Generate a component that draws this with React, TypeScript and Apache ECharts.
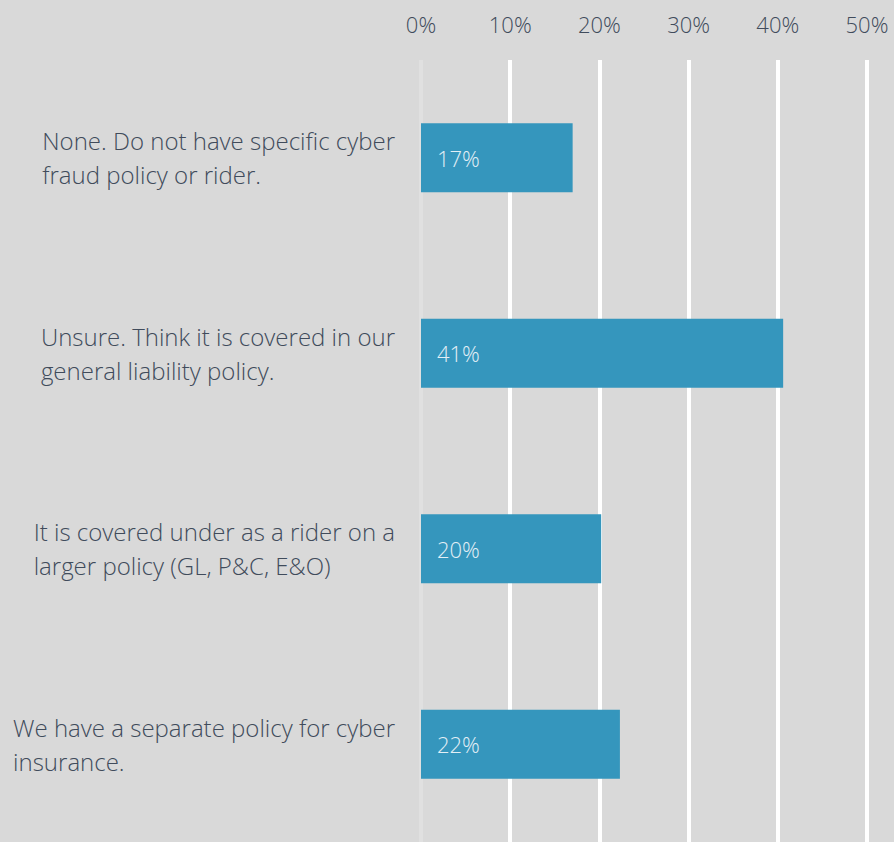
import React, { useEffect, useRef } from "react";
import * as echarts from "echarts";

const categories: string[] = [
  "None. Do not have specific cyber\nfraud policy or rider.",
  "Unsure. Think it is covered in our\ngeneral liability policy.",
  "It is covered under as a rider on a\nlarger policy (GL, P&C, E&O)",
  "We have a separate policy for cyber\ninsurance.",
];
const values: number[] = [17, 40.6, 20.2, 22.3];
const valueLabels: string[] = ["17%", "41%", "20%", "22%"];
const tickMin = 0;
const tickMax = 50;
const tickStep = 10;

const FONT = "'Open Sans', 'Noto Sans', sans-serif";
const TEXT = "#404b5b";

export default function App() {
  const ref = useRef<HTMLDivElement>(null);
  useEffect(() => {
    if (!ref.current) return;
    const chart = echarts.init(ref.current, null, { renderer: "svg" });
    chart.setOption({
      animation: false,
      backgroundColor: "#d9d9d9",
      grid: { left: 421, top: 60, width: 446, height: 784, containLabel: false },
      xAxis: {
        type: "value",
        position: "top",
        min: tickMin,
        max: tickMax,
        interval: tickStep,
        axisLine: { show: false },
        axisTick: { show: false },
        axisLabel: {
          formatter: (v: number) => `${v}%`,
          margin: 25,
          fontSize: 22,
          fontWeight: 300,
          fontFamily: FONT,
          color: TEXT,
        },
        splitLine: {
          show: true,
          lineStyle: {
            color: ["#e0e0e0", "#ffffff", "#ffffff", "#ffffff", "#ffffff", "#ffffff"],
            width: 4,
          },
        },
      },
      yAxis: {
        type: "category",
        inverse: true,
        data: categories,
        axisLine: { show: false },
        axisTick: { show: false },
        splitLine: { show: false },
        axisLabel: {
          margin: 26,
          formatter: (v: string) =>
            v
              .split("\n")
              .map((l) => `{a|${l}}`)
              .join("\n"),
          rich: {
            a: {
              align: "left",
              fontSize: 24,
              lineHeight: 34,
              fontWeight: 300,
              fontFamily: FONT,
              color: TEXT,
            },
          },
        },
      },
      series: [
        {
          type: "bar",
          data: values,
          barWidth: 69,
          itemStyle: { color: "#3596bd" },
          label: {
            show: true,
            position: "insideLeft",
            distance: 16,
            formatter: (p: any) => valueLabels[p.dataIndex],
            fontSize: 22,
            fontWeight: 300,
            fontFamily: FONT,
            color: "#e3eff6",
          },
        },
      ],
    });
    return () => chart.dispose();
  }, []);
  return (
    <div
      ref={ref}
      style={{ position: "fixed", left: 0, top: 0, width: 894, height: 842 }}
    />
  );
}
